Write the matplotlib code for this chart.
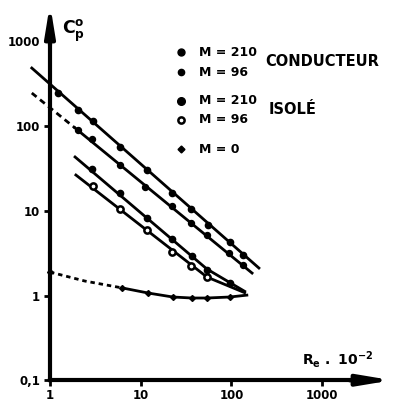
import matplotlib
matplotlib.use("Agg")
import matplotlib.pyplot as plt
from matplotlib.ticker import NullLocator, FixedLocator, FixedFormatter

plt.rcParams['font.family'] = ['DejaVu Sans']
plt.rcParams['font.weight'] = 'bold'

# ---- data ----
x_ticks = [1, 10, 100, 1000]
x_tick_labels = ['1', '10', '100', '1000']
y_ticks = [0.1, 1, 10, 100, 1000]
y_tick_labels = ['0,1', '1', '10', '100', '1000']

# M = 210 conducteur
cond210_line_re = [0.63, 201]
cond210_line_cp = [483, 2.11]
cond210_re = [1.22, 2.04, 2.98, 5.91, 11.7, 22.0, 35.9, 55.1, 96.5, 134]
cond210_cp = [245, 154, 115, 56.5, 30.3, 16.2, 10.5, 6.79, 4.28, 3.04]

# M = 96 conducteur
cond96_dash_re = [0.63, 1.89]
cond96_dash_cp = [245, 94.7]
cond96_line_re = [1.89, 169]
cond96_line_cp = [94.7, 1.84]
cond96_re = [2.04, 2.91, 5.91, 11.1, 22.0, 35.8, 53.8, 94.1, 134]
cond96_cp = [89.7, 70.3, 34.7, 19.1, 11.4, 7.17, 5.17, 3.17, 2.29]

# M = 210 isole
iso210_line_re = [1.89, 53.8, 140]
iso210_line_cp = [43.1, 2.05, 1.12]
iso210_re = [2.91, 5.91, 11.7, 22.0, 36.7, 53.8, 96.5]
iso210_cp = [31.1, 16.2, 8.21, 4.64, 2.92, 2.0, 1.40]

# M = 96 isole
iso96_line_re = [1.93, 53.8, 140]
iso96_line_cp = [26.4, 1.65, 1.08]
iso96_re = [2.98, 5.91, 11.7, 22.0, 35.8, 53.8]
iso96_cp = [19.6, 10.5, 5.93, 3.26, 2.23, 1.65]

# M = 0
m0_dash_re = [1, 2.43, 6.22]
m0_dash_cp = [1.89, 1.48, 1.23]
m0_line_re = [6.22, 12.05, 22.6, 36.7, 53.8, 96.5, 148]
m0_line_cp = [1.23, 1.07, 0.96, 0.934, 0.934, 0.96, 1.01]
m0_re = [1, 6.22, 12.05, 22.6, 36.7, 53.8, 96.5]
m0_cp = [1.89, 1.23, 1.07, 0.96, 0.934, 0.934, 0.96]

legend_labels = ['M = 210', 'M = 96', 'M = 210', 'M = 96', 'M = 0']
group_labels = ['CONDUCTEUR', 'ISOLÉ']

# ---- figure ----
W, H = 393, 403
fig = plt.figure(figsize=(W / 100, H / 100), dpi=100)
ax = fig.add_axes([0, 0, 1, 1])
ax.set_xscale('log')
ax.set_yscale('log')
ax.set_xlim(0.281, 6050)
ax.set_ylim(0.0539, 3067)

def fx(px):
    return px / W

def fy(py):
    return 1 - py / H

lw = 2.0
k = 'black'
# lines
ax.plot(cond210_line_re, cond210_line_cp, color=k, lw=lw, clip_on=False)
ax.plot(cond96_dash_re, cond96_dash_cp, color=k, lw=lw, ls=(0, (2.2, 1.6)))
ax.plot(cond96_line_re, cond96_line_cp, color=k, lw=lw)
ax.plot(iso210_line_re, iso210_line_cp, color=k, lw=lw)
ax.plot(iso96_line_re, iso96_line_cp, color=k, lw=lw)
ax.plot(m0_dash_re, m0_dash_cp, color=k, lw=lw, ls=(0, (1.6, 1.4)))
ax.plot(m0_line_re, m0_line_cp, color=k, lw=lw)

# markers
ax.plot(cond210_re, cond210_cp, 'o', color=k, ms=4.5, ls='none')
ax.plot(cond96_re, cond96_cp, 'o', color=k, ms=4.3, ls='none')
ax.plot(iso210_re, iso210_cp, 'o', color=k, ms=4.5, ls='none')
ax.plot(iso96_re, iso96_cp, 'o', mfc='white', mec=k, mew=1.8, ms=4.5, ls='none')
ax.plot(m0_re, m0_cp, 'D', color=k, ms=3, ls='none')

# axes
for s in ['top', 'right']:
    ax.spines[s].set_visible(False)
ax.spines['left'].set_position(('data', 1))
ax.spines['bottom'].set_position(('data', 0.1))
ax.spines['left'].set_bounds(0.1, 1500)
ax.spines['bottom'].set_bounds(1, 3500)
ax.spines['left'].set_linewidth(3)
ax.spines['bottom'].set_linewidth(3)

ax.annotate('', xy=(1, 2750), xytext=(1, 900),
            arrowprops=dict(arrowstyle='-|>,head_length=1.1,head_width=0.18',
                            lw=3, color=k, mutation_scale=16, shrinkA=0, shrinkB=0))
ax.annotate('', xy=(5900, 0.1), xytext=(2000, 0.1),
            arrowprops=dict(arrowstyle='-|>,head_length=1.2,head_width=0.2',
                            lw=3, color=k, mutation_scale=16, shrinkA=0, shrinkB=0))

ax.xaxis.set_major_locator(FixedLocator(x_ticks))
ax.xaxis.set_major_formatter(FixedFormatter(x_tick_labels))
ax.yaxis.set_major_locator(FixedLocator(y_ticks))
ax.yaxis.set_major_formatter(FixedFormatter(y_tick_labels))
ax.xaxis.set_minor_locator(NullLocator())
ax.yaxis.set_minor_locator(NullLocator())
ax.tick_params(axis='both', direction='out', length=4, width=2, labelsize=8.5)
ax.tick_params(axis='y', pad=3)
ax.tick_params(axis='x', pad=2)
for t in ax.get_xticklabels() + ax.get_yticklabels():
    t.set_fontweight('heavy')

# axis labels
fig.text(fx(62), fy(31), r'$\mathbf{C}_\mathbf{p}^\mathbf{o}$', fontsize=12.5,
         ha='left', va='center')
fig.text(fx(302), fy(360), r'$\mathbf{R}_\mathbf{e}\ \mathbf{.}\ \mathbf{10}^{\mathbf{-2}}$',
         fontsize=10, ha='left', va='center')

# legend (drawn as text + markers)
rows_y = [52, 72, 101, 120, 149]
styles = [dict(marker='o', color=k, ms=5),
          dict(marker='o', color=k, ms=4.5),
          dict(marker='o', color=k, ms=5.5),
          dict(marker='o', mfc='white', mec=k, mew=1.8, ms=4.5),
          dict(marker='D', color=k, ms=3.5)]
for y, lab, st in zip(rows_y, legend_labels, styles):
    fig.add_artist(plt.Line2D([fx(181)], [fy(y)], ls='none', **st))
    fig.text(fx(199), fy(y), lab, fontsize=9, fontweight='heavy', ha='left', va='center')
fig.text(fx(265), fy(62), group_labels[0], fontsize=10.5, fontweight='heavy', ha='left', va='center')
fig.text(fx(269), fy(109), group_labels[1], fontsize=10.5, fontweight='heavy', ha='left', va='center')

fig.savefig('out.png', dpi=100)
